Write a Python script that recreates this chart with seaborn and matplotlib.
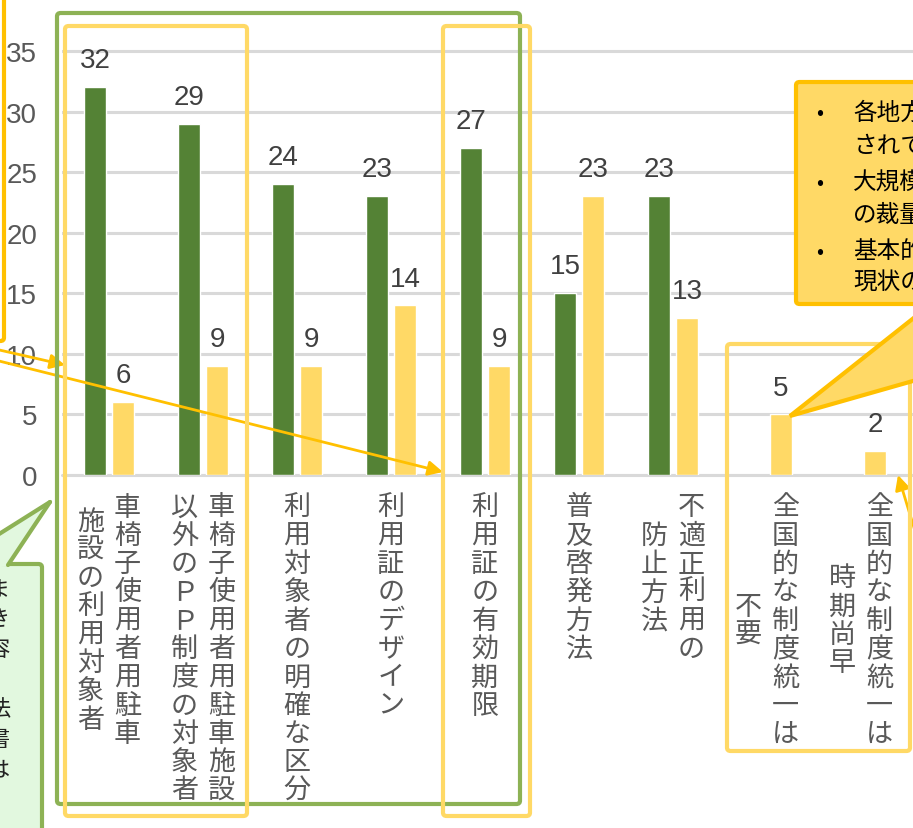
import numpy as np
import pandas as pd
import matplotlib
matplotlib.use("Agg")
import matplotlib.pyplot as plt
import matplotlib.transforms as mtransforms
from matplotlib import font_manager
from matplotlib.patches import Polygon, FancyBboxPatch
from matplotlib.lines import Line2D
import seaborn as sns

# ---------------------------------------------------
# datos del grafico
# ---------------------------------------------------
# cada etiqueta se escribe en vertical; la primera columna va a la derecha
labels = [
    ["車椅子使用者用駐車", "施設の利用対象者"],
    ["車椅子使用者用駐車施設", "以外のＰＰ制度の対象者"],
    ["利用対象者の明確な区分"],
    ["利用証のデザイン"],
    ["利用証の有効期限"],
    ["普及啓発方法"],
    ["不適正利用の", "防止方法"],
    ["全国的な制度統一は", "不要"],
    ["全国的な制度統一は", "時期尚早"],
]
series_names = ["系列1", "系列2"]
green_vals = [32, 29, 24, 23, 27, 15, 23, np.nan, np.nan]
yellow_vals = [6, 9, 9, 14, 9, 23, 13, 5, 2]
y_ticks = [0, 5, 10, 15, 20, 25, 30, 35]

callout_lines = ["各地方", "されてい", "大規模", "の裁量", "基本的", "現状の"]
note_chars = ["ま", "き", "容", "、", "法", "書", "は"]
# ---------------------------------------------------

W, H = 913, 829
GREEN = "#548235"
YELLOW = "#FFD966"
ORANGE = "#FFC000"
FRAME_GREEN = "#8DB255"
GRID = "#D9D9D9"
JP = ["Noto Sans CJK JP", "DejaVu Sans"]

names = {f.name for f in font_manager.fontManager.ttflist}
NUM_FONT = "Liberation Sans Narrow" if "Liberation Sans Narrow" in names else "Liberation Sans"

sns.set_theme(style="white")
plt.rcParams["font.family"] = JP


def fp(x, y):
    # pixeles de la imagen (origen arriba a la izquierda) -> fraccion de figura
    return (x / W, 1 - y / H)


keys = ["\n".join(l) for l in labels]
df = pd.DataFrame({
    "cat": keys * 2,
    "series": [series_names[0]] * len(keys) + [series_names[1]] * len(keys),
    "value": green_vals + yellow_vals,
})

fig = plt.figure(figsize=(W / 100, H / 100), dpi=100)
fig.patch.set_facecolor("white")
ax = fig.add_axes([62 / W, 1 - 476 / H, 851 / W, 476 / H])

sns.barplot(data=df, x="cat", y="value", hue="series", order=keys,
            palette=[GREEN, YELLOW], saturation=1, width=0.6, gap=0.2,
            errorbar=None, legend=False, ax=ax, zorder=3)

for cont in ax.containers:
    ax.bar_label(cont, fmt="%g", padding=10, fontsize=20, color="#404040",
                 family=NUM_FONT)

ax.set_xlim(-0.5, 8.5 + 5 / 94)
ax.set_ylim(0, 39.29)
ax.set_yticks(y_ticks)
ax.set_yticklabels([str(t) for t in y_ticks], family=NUM_FONT, fontsize=20,
                   color="#595959")
ax.tick_params(axis="y", length=0, pad=18)
ax.set_xticks([])
ax.set_xlabel("")
ax.set_ylabel("")
for s in ax.spines.values():
    s.set_visible(False)
ax.yaxis.grid(True, color=GRID, lw=2.2)
ax.set_axisbelow(True)
ax.axhline(0, color=GRID, lw=2.2, clip_on=False, zorder=1)

# etiquetas de categoria en vertical
trans = mtransforms.blended_transform_factory(ax.transData, fig.transFigure)
pitch = 28.3
col_gap = 37 / 94
for i, cols in enumerate(labels):
    n = len(cols)
    maxlen = max(len(c) for c in cols)
    center = 508 + (maxlen - 1) * pitch / 2
    for j, col in enumerate(cols):
        x = i + ((n - 1) / 2 - j) * col_gap
        for k, ch in enumerate(col):
            y = center + (k - (len(col) - 1) / 2) * pitch
            ax.text(x, 1 - y / H, ch, transform=trans, ha="center", va="center",
                    fontsize=19.5, color="#595959", family=JP, clip_on=False)

# ---------------------------------------------------
# marcos y llamadas superpuestos
# ---------------------------------------------------
def frame(x0, y0, x1, y1, color, lw=3, fill=None, z=5):
    p = FancyBboxPatch(fp(x0, y1), (x1 - x0) / W, (y1 - y0) / H,
                       boxstyle="round,pad=0,rounding_size=0.004",
                       transform=fig.transFigure, fill=fill is not None,
                       fc=fill if fill else "none", ec=color, lw=lw, zorder=z)
    fig.add_artist(p)


frame(-50, -10, 4, 342, ORANGE)
frame(57, 14, 520, 805, FRAME_GREEN)
frame(65, 27, 247, 817, YELLOW)
frame(443, 27, 530, 817, YELLOW)
frame(727, 345, 910, 752, YELLOW)

# llamada arriba a la derecha
frame(796, 83, 960, 305, ORANGE, fill=YELLOW, z=6)
fig.add_artist(Polygon([fp(790, 417), fp(920, 314), fp(920, 380)],
                       closed=True, transform=fig.transFigure, fc=YELLOW,
                       ec=ORANGE, lw=3, zorder=6))
line_y = [113, 146, 183, 216, 252, 283]
for k, (txt, yy) in enumerate(zip(callout_lines, line_y)):
    if k % 2 == 0:
        fig.text(*fp(820, yy), "•", ha="center", va="center", fontsize=15,
                 color="black", family=JP, zorder=7)
    fig.text(*fp(853, yy), txt, ha="left", va="center", fontsize=17,
             color="black", family=JP, zorder=7)

# nota verde abajo a la izquierda
frame(-30, 565, 42, 880, FRAME_GREEN, fill="#E2F8DF", z=6)
fig.add_artist(Polygon([fp(-12, 542), fp(50, 503), fp(8, 567), fp(-12, 570)],
                       closed=True, transform=fig.transFigure, fc="#E2F8DF",
                       ec="none", zorder=7))
for seg in ([(-12, 542), (50, 503)], [(50, 503), (8, 566)]):
    xs = [fp(*p)[0] for p in seg]
    ys = [fp(*p)[1] for p in seg]
    fig.add_artist(Line2D(xs, ys, transform=fig.transFigure, color=FRAME_GREEN,
                          lw=3, solid_capstyle="round", zorder=7))
for k, ch in enumerate(note_chars):
    fig.text(*fp(-1, 590 + k * 30), ch, ha="center", va="center", fontsize=16,
             color="#222222", family=JP, zorder=8)

# flechas naranjas
for start, end in [((-5, 350), (65, 366)), ((-5, 361), (443, 473)),
                   ((925, 565), (898, 476))]:
    ax.annotate("", xy=fp(*end), xycoords="figure fraction",
                xytext=fp(*start), textcoords="figure fraction",
                arrowprops=dict(arrowstyle="-|>", color=ORANGE, lw=2,
                                mutation_scale=22, shrinkA=0, shrinkB=0),
                annotation_clip=False, zorder=8)

fig.savefig("out.png", dpi=100)
